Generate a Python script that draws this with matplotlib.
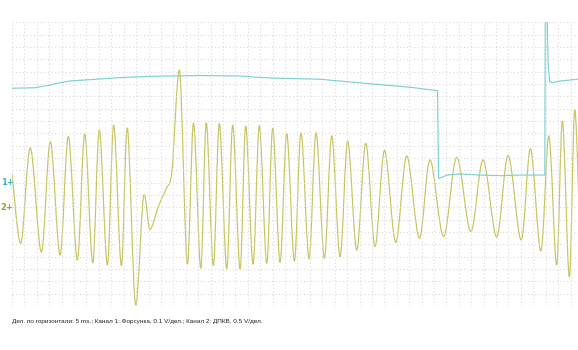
import numpy as np
import matplotlib
matplotlib.use("Agg")
import matplotlib.pyplot as plt
from matplotlib.path import Path
from matplotlib.patches import PathPatch
from matplotlib.transforms import blended_transform_factory

# развёртка: 5 мс/дел., канал 1 — 0.1 В/дел., канал 2 — 0.5 В/дел.
ms_per_div = 5.0
ch1_v_per_div = 0.1
ch2_v_per_div = 0.5
ch1_zero_div = 10   # метка "1+"
ch2_zero_div = 8    # метка "2+"
n_div_y = 23
t_end = 228.0

# канал 1: форсунка (мс, В)
ch1_t = [0.0, 9.27, 15.31, 18.13, 23.37, 35.46, 43.51, 55.60, 75.75, 91.86,
         103.95, 124.09, 136.18, 150.28, 160.35, 171.43, 171.83, 175.26, 180.50,
         188.56, 196.62, 204.67, 214.62, 214.86, 215.35, 215.75, 216.0, 216.55,
         217.57, 220.79, 228.04]
ch1_v = [0.766, 0.770, 0.792, 0.806, 0.825, 0.841, 0.852, 0.863, 0.869, 0.865,
         0.849, 0.839, 0.817, 0.792, 0.774, 0.746, 0.034, 0.062, 0.071,
         0.062, 0.057, 0.062, 0.062, 1.60, 1.60, 1.16, 0.95, 0.82,
         0.811, 0.825, 0.839]

# канал 2: ДПКВ (мс, В) — экстремумы и точки перегиба
ch2_t = [0.0, 3.50, 7.37, 11.80, 15.43, 19.34, 22.68, 26.31, 29.29, 32.51,
         35.17, 38.40, 40.97, 44.04, 46.45, 49.84, 53.18, 55.60, 58.94, 62.05,
         64.46, 67.41, 70.63, 73.13, 76.03, 78.28, 81.10, 83.52, 86.50, 88.92,
         91.86, 94.16, 97.10, 99.64, 102.62, 105.04, 107.98, 110.68, 113.74, 116.44,
         119.66, 122.48, 125.83, 128.81, 132.15, 135.25, 138.88, 142.51, 146.25, 150.08,
         154.59, 159.02, 164.10, 168.41, 173.85, 179.17, 184.81, 189.77, 195.21, 199.84,
         205.08, 208.82, 213.01, 216.24, 219.38, 221.72, 224.50, 226.71, 229.25]
ch2_v = [1.39, -1.46, 2.41, -1.81, 2.66, -1.93, 2.87, -2.13, 2.98, -2.25,
         3.14, -2.34, 3.34, -2.36, 3.22, -3.96, 0.52, -0.89, 0.03, 0.75,
         1.52, 5.57, -2.30, 3.42, -2.47, 3.43, -2.36, 3.41, -2.50, 3.34,
         -2.50, 3.30, -2.30, 3.31, -2.27, 3.21, -2.23, 2.99, -2.17, 3.03,
         -2.09, 3.03, -2.06, 2.90, -2.00, 2.69, -1.73, 2.60, -1.59, 2.31,
         -1.42, 2.08, -1.25, 1.92, -1.18, 2.03, -0.98, 1.92, -1.20, 2.10,
         -1.32, 2.37, -1.77, 2.90, -2.34, 3.50, -2.82, 3.95, -2.94]

caption = ("Дел. по горизонтали: 5 ms.; Канал 1: Форсунка, 0.1 V/дел.; "
           "Канал 2: ДПКВ, 0.5 V/дел.")

c1 = "#7dd1d2"
c2 = "#c8c45e"


def smooth_path(xs, ys):
    # кривая Безье через точки, на экстремумах касательная горизонтальна
    pts = np.column_stack([xs, ys]).astype(float)
    n = len(pts)
    tang = np.zeros_like(pts)
    for i in range(n):
        a = pts[max(i - 1, 0)]
        b = pts[min(i + 1, n - 1)]
        tang[i] = (b - a) / 2
        if 0 < i < n - 1 and (pts[i, 1] - a[1]) * (pts[i, 1] - b[1]) > 0:
            tang[i, 1] = 0
    verts = [pts[0]]
    codes = [Path.MOVETO]
    for i in range(n - 1):
        verts += [pts[i] + tang[i] / 3, pts[i + 1] - tang[i + 1] / 3, pts[i + 1]]
        codes += [Path.CURVE4] * 3
    return Path(verts, codes)


W, H = 578, 350
fig = plt.figure(figsize=(W / 100, H / 100), dpi=100)
ax = fig.add_axes([12 / W, (H - 306) / H, (W - 12) / W, (306 - 22.4) / H])
ax.set_xlim(0, t_end)
ax.set_ylim(0, n_div_y)
ax.set_xticks(np.arange(0, t_end, ms_per_div))
ax.set_yticks(np.arange(0, n_div_y + 1, 1))
ax.grid(True, color="#dadada", linestyle=(0, (1, 2.2)), linewidth=0.8)
ax.tick_params(length=0, labelbottom=False, labelleft=False)
for s in ax.spines.values():
    s.set_visible(False)

y2 = np.array(ch2_v) / ch2_v_per_div + ch2_zero_div
ax.add_patch(PathPatch(smooth_path(ch2_t, y2), fill=False, edgecolor=c2, lw=0.85))

y1 = np.array(ch1_v) / ch1_v_per_div + ch1_zero_div
ax.plot(ch1_t, y1, color=c1, lw=0.85)

tr = blended_transform_factory(fig.transFigure, ax.transData)
fig.text(7 / W, ch1_zero_div, "1+", transform=tr, color="#3fb3ba", fontsize=6,
         fontweight="bold", ha="center", va="center")
fig.text(7 / W, ch2_zero_div, "2+", transform=tr, color="#a39c25", fontsize=6,
         fontweight="bold", ha="center", va="center")

txt = fig.text(12 / W, 1 - 321 / H, caption, fontsize=5, color="#222222",
               family="Liberation Sans", va="center", ha="left")
fig.canvas.draw()
w = txt.get_window_extent().width
txt.set_fontsize(5 * 257 / w)

fig.savefig("out.png", dpi=100)
